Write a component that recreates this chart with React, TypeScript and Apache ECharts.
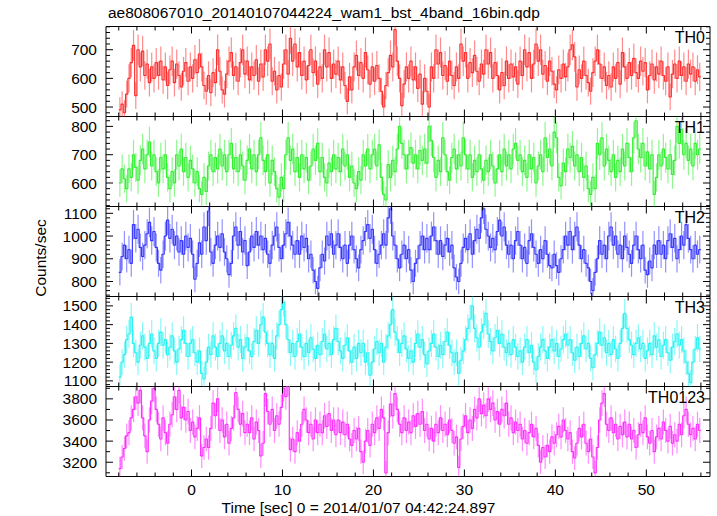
import React, { useEffect, useRef } from "react";
import * as echarts from "echarts";

const TITLE = "ae808067010_20140107044224_wam1_bst_4band_16bin.qdp";
const X_TITLE = "Time [sec] 0 = 2014/01/07 04:42:24.897";
const Y_TITLE = "Counts/sec";
const PANEL_NAMES = ["TH0", "TH1", "TH2", "TH3", "TH0123"];
const PANEL_COLORS = ["#ff2e2e", "#30f030", "#3636ff", "#28f2f2", "#ff30ff"];

const BIN_START = -8;
const BIN_WIDTH = 0.25;
const X_MIN = -9.4;
const X_MAX = 57.0;
const X_TICK_LABELS = [0, 10, 20, 30, 40, 50];

const Y_RANGES = [
  [467, 781],
  [517, 835],
  [734, 1130],
  [1070, 1550],
  [3065, 3917],
];
const Y_TICK_LABELS = [
  [500, 600, 700],
  [600, 700, 800],
  [800, 900, 1000, 1100],
  [1100, 1200, 1300, 1400, 1500],
  [3200, 3400, 3600, 3800],
];
const Y_MAJOR = [100, 100, 100, 100, 200];
const Y_MINOR = [20, 20, 20, 20, 100];

const TH0 = [
  490, 510, 480, 545, 600, 655, 715, 540, 700, 640, 695, 610, 650, 585, 640, 600,
  655, 610, 660, 595, 640, 575, 630, 660, 585, 650, 610, 570, 625, 655, 590, 640,
  600, 665, 620, 685, 640, 575, 555, 610, 550, 620, 585, 700, 625, 560, 545, 615,
  660, 690, 610, 640, 590, 655, 700, 615, 660, 595, 640, 610, 665, 590, 650, 605,
  700, 660, 720, 590, 625, 560, 610, 570, 650, 700, 615, 740, 660, 720, 640, 690,
  610, 660, 595, 645, 700, 620, 660, 580, 640, 600, 700, 640, 690, 600, 650, 615,
  660, 595, 640, 575, 520, 605, 560, 640, 680, 610, 655, 600, 690, 630, 580, 640,
  590, 645, 600, 555, 500, 575, 620, 680, 640, 770, 660, 600, 505, 580, 640, 600,
  660, 595, 640, 565, 615, 510, 600, 555, 500, 640, 600, 700, 650, 690, 610, 645,
  590, 660, 610, 575, 640, 600, 720, 660, 690, 600, 655, 620, 680, 625, 590, 650,
  615, 700, 650, 690, 600, 655, 610, 560, 620, 575, 660, 600, 650, 605, 640, 580,
  660, 610, 700, 640, 690, 600, 650, 720, 660, 700, 615, 645, 590, 660, 625, 580,
  560, 630, 600, 650, 605, 640, 700, 717, 675, 570, 630, 600, 660, 610, 585, 555,
  620, 660, 700, 650, 600, 640, 575, 610, 570, 640, 600, 655, 580, 690, 640, 600,
  655, 610, 670, 620, 600, 660, 625, 655, 560, 610, 650, 595, 640, 615, 660, 610,
  590, 640, 535, 615, 650, 600, 660, 610, 640, 590, 650, 615, 640, 590, 630, 605,
];

const TH1 = [
  600, 650, 615, 580, 650, 620, 700, 655, 610, 680, 720, 650, 700, 745, 660, 700,
  640, 600, 690, 650, 700, 620, 580, 640, 600, 700, 660, 720, 640, 690, 620, 680,
  650, 600, 640, 580, 560, 620, 570, 660, 700, 640, 690, 650, 720, 660, 700, 640,
  700, 740, 650, 690, 640, 700, 660, 610, 680, 720, 650, 700, 640, 700, 760, 680,
  640, 700, 600, 680, 640, 580, 550, 620, 580, 700, 760, 680, 720, 640, 690, 620,
  700, 650, 690, 610, 660, 720, 680, 740, 640, 690, 620, 600, 670, 640, 700, 650,
  690, 640, 720, 660, 700, 620, 660, 600, 580, 640, 610, 700, 660, 720, 650, 700,
  720, 660, 735, 620, 560, 540, 665, 620, 680, 640, 720, 800, 740, 700, 650, 700,
  725, 670, 700, 650, 715, 680, 720, 670, 800, 750, 690, 620, 680, 640, 760, 700,
  640, 610, 690, 720, 650, 700, 660, 760, 700, 650, 700, 620, 680, 640, 700, 650,
  610, 680, 640, 700, 660, 600, 650, 700, 640, 720, 660, 700, 650, 720, 740, 680,
  700, 640, 680, 620, 700, 650, 690, 600, 660, 700, 640, 760, 690, 720, 660, 780,
  760, 620, 590, 670, 640, 720, 690, 730, 660, 700, 640, 690, 620, 660, 580, 560,
  620, 580, 740, 700, 760, 660, 720, 680, 640, 700, 620, 680, 640, 720, 660, 740,
  690, 640, 760, 820, 720, 690, 740, 660, 710, 650, 700, 560, 620, 700, 660, 720,
  690, 650, 700, 630, 680, 800, 740, 790, 700, 740, 680, 720, 660, 740, 700, 720,
];

const TH2 = [
  840, 910, 960, 900, 940, 880, 1050, 990, 1030, 950, 910, 960, 1010, 1060, 980, 1020,
  950, 880, 850, 920, 1000, 1070, 990, 1030, 960, 1000, 930, 980, 920, 1000, 950, 990,
  920, 810, 880, 970, 920, 1040, 980, 1110, 930, 880, 960, 1000, 950, 1010, 930, 900,
  830, 880, 1000, 1040, 960, 1020, 930, 980, 870, 930, 1000, 950, 1020, 960, 1000, 940,
  990, 920, 880, 960, 1000, 1040, 950, 900, 960, 1010, 1060, 1000, 960, 920, 980, 920,
  1000, 950, 990, 900, 920, 850, 800, 770, 860, 920, 890, 1000, 960, 1010, 920, 960,
  1010, 950, 900, 960, 880, 960, 1000, 940, 900, 860, 940, 980, 1020, 1050, 990, 1030,
  940, 880, 920, 960, 1010, 960, 1080, 1120, 1000, 960, 900, 860, 920, 960, 900, 940,
  850, 800, 880, 900, 960, 1000, 940, 990, 940, 1000, 1040, 980, 920, 980, 910, 960,
  990, 930, 960, 860, 820, 800, 880, 950, 990, 940, 1010, 920, 980, 1030, 990, 1080,
  1120, 1030, 1000, 950, 990, 940, 1020, 1070, 1000, 1040, 960, 920, 960, 900, 980, 1020,
  960, 900, 950, 880, 980, 1010, 950, 920, 880, 940, 900, 980, 920, 870, 860, 920,
  870, 840, 900, 940, 1000, 960, 1020, 940, 1000, 1040, 960, 900, 940, 880, 860, 800,
  760, 840, 900, 980, 920, 960, 900, 1000, 1040, 960, 1000, 920, 960, 900, 1000, 950,
  920, 880, 960, 1000, 940, 900, 960, 850, 830, 890, 860, 960, 920, 980, 920, 960,
  900, 980, 1010, 950, 990, 900, 940, 1000, 960, 1050, 990, 940, 900, 960, 920, 940,
];

const TH3 = [
  1120, 1200, 1240, 1320, 1350, 1440, 1300, 1250, 1200, 1290, 1340, 1280, 1220, 1300, 1350, 1260,
  1220, 1300, 1360, 1290, 1320, 1240, 1280, 1340, 1260, 1200, 1270, 1320, 1370, 1300, 1230, 1300,
  1320, 1250, 1200, 1260, 1140, 1110, 1200, 1280, 1240, 1340, 1280, 1230, 1300, 1340, 1260, 1300,
  1230, 1290, 1340, 1380, 1280, 1320, 1220, 1280, 1330, 1260, 1230, 1310, 1370, 1300, 1400, 1440,
  1360, 1300, 1240, 1300, 1220, 1340, 1400, 1480, 1520, 1400, 1320, 1250, 1300, 1230, 1310, 1350,
  1280, 1230, 1300, 1250, 1330, 1270, 1220, 1290, 1240, 1310, 1350, 1270, 1300, 1240, 1320, 1380,
  1310, 1260, 1220, 1290, 1330, 1260, 1200, 1280, 1220, 1300, 1250, 1300, 1200, 1250, 1130, 1200,
  1270, 1310, 1250, 1300, 1200, 1280, 1340, 1400, 1480, 1360, 1320, 1250, 1300, 1340, 1270, 1220,
  1260, 1200, 1300, 1350, 1280, 1320, 1240, 1190, 1260, 1300, 1350, 1280, 1230, 1290, 1240, 1310,
  1360, 1290, 1250, 1200, 1250, 1140, 1210, 1260, 1320, 1380, 1430, 1500, 1380, 1330, 1280, 1360,
  1400, 1460, 1350, 1310, 1260, 1330, 1370, 1300, 1350, 1280, 1250, 1300, 1240, 1320, 1280, 1230,
  1260, 1200, 1280, 1320, 1250, 1290, 1200, 1160, 1230, 1280, 1320, 1260, 1220, 1280, 1320, 1260,
  1300, 1230, 1270, 1320, 1350, 1290, 1320, 1250, 1210, 1280, 1230, 1300, 1340, 1270, 1300, 1220,
  1170, 1240, 1300, 1360, 1290, 1330, 1250, 1300, 1240, 1320, 1270, 1220, 1300, 1380, 1460, 1380,
  1320, 1290, 1240, 1300, 1330, 1270, 1300, 1220, 1260, 1300, 1240, 1340, 1280, 1320, 1230, 1290,
  1320, 1250, 1210, 1280, 1310, 1350, 1290, 1320, 1260, 1200, 1140, 1090, 1200, 1270, 1330, 1270,
];

const TH0123 = [
  3140, 3250, 3330, 3450, 3480, 3620, 3700, 3820, 3760, 3880, 3620, 3450, 3300, 3600, 3780, 3900,
  3700, 3560, 3420, 3620, 3480, 3380, 3560, 3650, 3820, 3700, 3880, 3620, 3720, 3600, 3680, 3500,
  3580, 3440, 3520, 3620, 3260, 3340, 3420, 3340, 3520, 3760, 3640, 3800, 3500, 3600, 3440, 3560,
  3380, 3520, 3620, 3860, 3700, 3560, 3660, 3480, 3560, 3480, 3620, 3420, 3580, 3500, 3260, 3380,
  3850, 3680, 3560, 3700, 3500, 3640, 3560, 3720, 3900, 3820, 3950, 3320, 3420, 3300, 3480, 3400,
  3560, 3700, 3600, 3480, 3560, 3420, 3600, 3480, 3560, 3480, 3640, 3540, 3660, 3500, 3600, 3460,
  3600, 3480, 3580, 3460, 3560, 3420, 3360, 3500, 3420, 3520, 3300, 3200, 3400, 3500, 3360, 3560,
  3480, 3620, 3520, 3700, 3620, 3100, 3480, 3750, 3640, 3850, 3700, 3560, 3480, 3620, 3500, 3580,
  3480, 3640, 3540, 3660, 3560, 3680, 3500, 3560, 3420, 3520, 3400, 3560, 3480, 3620, 3500, 3560,
  3460, 3600, 3500, 3380, 3440, 3150, 3420, 3540, 3640, 3480, 3600, 3520, 3700, 3620, 3800, 3660,
  3740, 3640, 3800, 3700, 3760, 3600, 3680, 3560, 3700, 3640, 3760, 3560, 3620, 3480, 3580, 3500,
  3560, 3420, 3500, 3380, 3480, 3560, 3440, 3520, 3360, 3200, 3340, 3250, 3360, 3300, 3440, 3380,
  3460, 3540, 3440, 3600, 3500, 3420, 3480, 3300, 3240, 3380, 3520, 3440, 3560, 3380, 3300, 3420,
  3250, 3100, 3340, 3600, 3760, 3850, 3560, 3500, 3620, 3480, 3560, 3420, 3540, 3460, 3580, 3440,
  3560, 3420, 3500, 3340, 3460, 3560, 3480, 3620, 3440, 3380, 3500, 3300, 3440, 3520, 3420, 3580,
  3500, 3400, 3540, 3380, 3460, 3400, 3560, 3460, 3640, 3700, 3560, 3460, 3520, 3420, 3560, 3500,
];

const PANELS = [TH0, TH1, TH2, TH3, TH0123];

const FONT = "'Liberation Sans', Arial, Helvetica, sans-serif";
const FONT_SIZE = 15.5;
const GRID_LEFT = 106;
const GRID_RIGHT = 7;
const GRID_TOP0 = 26.5;
const GRID_H = 90;

function tickLine(x1: number, y1: number, x2: number, y2: number) {
  return {
    type: "line",
    shape: { x1, y1, x2, y2 },
    style: { stroke: "#000", lineWidth: 1 },
    silent: true,
  };
}

function buildOption() {
  const grids: any[] = [];
  const xAxes: any[] = [];
  const yAxes: any[] = [];
  const series: any[] = [];
  const graphics: any[] = [];

  PANELS.forEach((vals, gi) => {
    const color = PANEL_COLORS[gi];
    const [yMin, yMax] = Y_RANGES[gi];
    const last = gi === PANELS.length - 1;
    grids.push({
      left: GRID_LEFT,
      right: GRID_RIGHT,
      top: GRID_TOP0 + GRID_H * gi,
      height: GRID_H,
      show: true,
      borderColor: "#000",
      borderWidth: 1,
      backgroundColor: "transparent",
    });
    xAxes.push({
      type: "value",
      gridIndex: gi,
      min: X_MIN,
      max: X_MAX,
      axisLine: { show: false },
      axisTick: { show: false },
      splitLine: { show: false },
      axisLabel: {
        show: last,
        customValues: X_TICK_LABELS,
        formatter: (v: number) => String(v),
        margin: 5,
        color: "#000",
        fontFamily: FONT,
        fontSize: FONT_SIZE,
      },
    });
    yAxes.push({
      type: "value",
      gridIndex: gi,
      min: yMin,
      max: yMax,
      axisLine: { show: false },
      axisTick: { show: false },
      splitLine: { show: false },
      axisLabel: {
        customValues: Y_TICK_LABELS[gi],
        formatter: (v: number) => String(v),
        margin: 9,
        color: "#000",
        fontFamily: FONT,
        fontSize: FONT_SIZE,
      },
    });

    const stepData: number[][] = vals.map((v, i) => [BIN_START + i * BIN_WIDTH, v]);
    stepData.push([BIN_START + vals.length * BIN_WIDTH, vals[vals.length - 1]]);
    const errData: number[][] = vals.map((v, i) => {
      const e = Math.sqrt(v / BIN_WIDTH);
      return [BIN_START + (i + 0.5) * BIN_WIDTH, v - e, v + e];
    });

    series.push({
      type: "custom",
      name: PANEL_NAMES[gi] + " err",
      xAxisIndex: gi,
      yAxisIndex: gi,
      data: errData,
      encode: { x: 0, y: [1, 2] },
      silent: true,
      z: 2,
      renderItem: (params: any, api: any) => {
        const cs = params.coordSys;
        const x = api.value(0);
        const a = api.coord([x, api.value(1)]);
        const b = api.coord([x, api.value(2)]);
        const top = cs.y;
        const bot = cs.y + cs.height;
        const y1 = Math.max(top, Math.min(bot, a[1]));
        const y2 = Math.max(top, Math.min(bot, b[1]));
        return {
          type: "line",
          shape: { x1: a[0], y1, x2: a[0], y2 },
          style: { stroke: color, lineWidth: 1.2, opacity: 0.55 },
        };
      },
    });
    series.push({
      type: "line",
      name: PANEL_NAMES[gi],
      xAxisIndex: gi,
      yAxisIndex: gi,
      data: stepData,
      step: "end",
      symbol: "none",
      showSymbol: false,
      clip: true,
      silent: true,
      lineStyle: { color, width: 1.15 },
      z: 3,
    });
    series.push({
      type: "custom",
      name: "ticks" + gi,
      xAxisIndex: gi,
      yAxisIndex: gi,
      data: [[0, yMin]],
      silent: true,
      z: 5,
      renderItem: (params: any, api: any) => {
        const cs = params.coordSys;
        const left = cs.x;
        const right = cs.x + cs.width;
        const top = cs.y;
        const bot = cs.y + cs.height;
        const children: any[] = [];
        for (let t = Math.ceil(X_MIN / 2) * 2; t <= X_MAX; t += 2) {
          const px = api.coord([t, yMin])[0];
          const len = Math.abs(t % 10) < 1e-9 ? 7 : 4;
          children.push(tickLine(px, bot, px, bot - len));
          children.push(tickLine(px, top, px, top + len));
        }
        const step = Y_MINOR[gi];
        for (let v = Math.ceil(yMin / step) * step; v <= yMax; v += step) {
          const py = api.coord([0, v])[1];
          const len = v % Y_MAJOR[gi] === 0 ? 7 : 4;
          children.push(tickLine(left, py, left + len, py));
          children.push(tickLine(right, py, right - len, py));
        }
        return { type: "group", children };
      },
    });

    graphics.push({
      type: "text",
      right: 12,
      top: GRID_TOP0 + GRID_H * gi + 3,
      style: {
        text: PANEL_NAMES[gi],
        fill: "#000",
        font: `16px ${FONT}`,
      },
      z: 10,
    });
  });

  graphics.push({
    type: "text",
    left: 108,
    top: 4,
    style: { text: TITLE, fill: "#000", font: `${FONT_SIZE}px ${FONT}` },
  });
  graphics.push({
    type: "text",
    left: "center",
    top: 499,
    style: { text: X_TITLE, fill: "#000", font: `${FONT_SIZE}px ${FONT}` },
  });
  graphics.push({
    type: "text",
    left: 32,
    top: "middle",
    rotation: Math.PI / 2,
    style: { text: Y_TITLE, fill: "#000", font: `${FONT_SIZE}px ${FONT}` },
  });

  return {
    animation: false,
    backgroundColor: "#fff",
    grid: grids,
    xAxis: xAxes,
    yAxis: yAxes,
    series,
    graphic: graphics,
  };
}

export default function App() {
  const ref = useRef<HTMLDivElement>(null);
  useEffect(() => {
    if (!ref.current) return;
    const chart = echarts.init(ref.current, undefined, { renderer: "svg" });
    chart.setOption(buildOption() as any);
    return () => chart.dispose();
  }, []);
  return (
    <div
      ref={ref}
      style={{ position: "fixed", left: 0, top: 0, width: 717, height: 516 }}
    />
  );
}
